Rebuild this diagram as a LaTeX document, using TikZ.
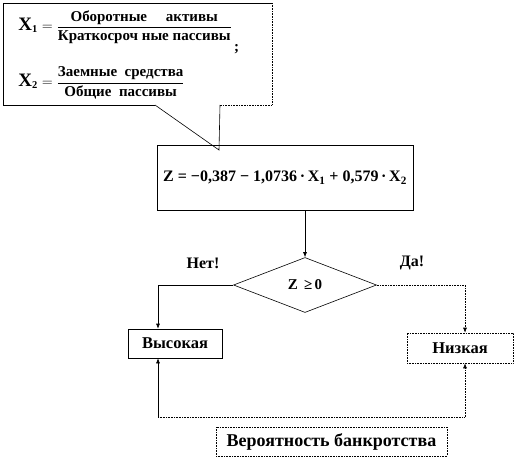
\documentclass[tikz,border=0pt]{standalone}
\usepackage{amsmath}
\usepackage{fontspec}
\setmainfont{Liberation Serif}
\usetikzlibrary{shapes.geometric,arrows.meta,calc}

\tikzset{
  box/.style={draw, rectangle, inner sep=0pt, font=\bfseries\fontsize{16.5}{18}\selectfont},
  dotbox/.style={box, densely dotted},
  test/.style={draw, diamond, aspect=2.6, inner sep=0pt, minimum width=143pt, minimum height=55pt,
    font=\bfseries\fontsize{15}{17}\selectfont},
  lab/.style={font=\bfseries\fontsize{16}{18}\selectfont},
  ratio/.style={anchor=west, inner sep=0pt, font=\bfseries\fontsize{15}{17}\selectfont},
  arr/.style={-{Latex[length=5pt,width=4pt]}},
}
\newcommand{\bigX}[1]{\text{\fontsize{19}{21}\selectfont X}_{\mathbf{#1}}}

\begin{document}
\begin{tikzpicture}[x=1pt, y=-1pt, line width=0.6pt]
  \useasboundingbox (0,0) rectangle (516,458);

  % callout with the two ratios
  \draw (155,105) -- (3,105) -- (3,3) -- (272,3);
  \draw[densely dotted] (272,3) -- (272,105) -- (220,105);
  \draw (220,105) -- (219,150) -- (155,105);
  \node (xone) [ratio] at (18,32)
    {$\bigX{1}=\dfrac{\text{Оборотные \quad активы}}{\text{Краткосроч ные пассивы}}\,\raisebox{-3ex}{;}$};
  \node (xtwo) [ratio] at (18,83)
    {$\bigX{2}=\dfrac{\text{Заемные \ средства}}{\text{Общие \ пассивы}}$};

  % model
  \node (zbox) [box, minimum width=256pt, minimum height=65pt, font=\bfseries\fontsize{16}{18}\selectfont]
    at (285,177.5)
    {Z = −0,387 − 1,0736\,·\,X\textsubscript{1} + 0,579\,·\,X\textsubscript{2}};
  \node (test) [test] at (305,285) {Z \,≥\,0};
  \node (no)  [lab] at (203,263) {Нет!};
  \node (yes) [lab] at (412,263) {Да!};

  % outcomes
  \node (high) [box, minimum width=94pt, minimum height=29pt] at (175,343.5) {Высокая};
  \node (low)  [dotbox, minimum width=106pt, minimum height=30pt] at (460,348) {Низкая};
  \node (prob) [dotbox, minimum width=231pt, minimum height=29pt, font=\bfseries\fontsize{18}{20}\selectfont]
    at (331.5,441.5) {Вероятность банкротства};

  \draw[arr] (test.north |- zbox.south) -- (test.north);
  \draw[arr] (test.west) -| ([xshift=-17pt]high.north);
  \draw[arr, densely dotted] (test.east) -| ([xshift=5pt]low.north);

  \coordinate (loopl) at (158,417);
  \coordinate (loopr) at (465,417);
  \draw[arr] (loopl) -- (loopl |- high.south);
  \draw[densely dotted] (loopl) -- (loopr);
  \draw[arr, densely dotted] (loopr) -- (loopr |- low.south);
\end{tikzpicture}
\end{document}
